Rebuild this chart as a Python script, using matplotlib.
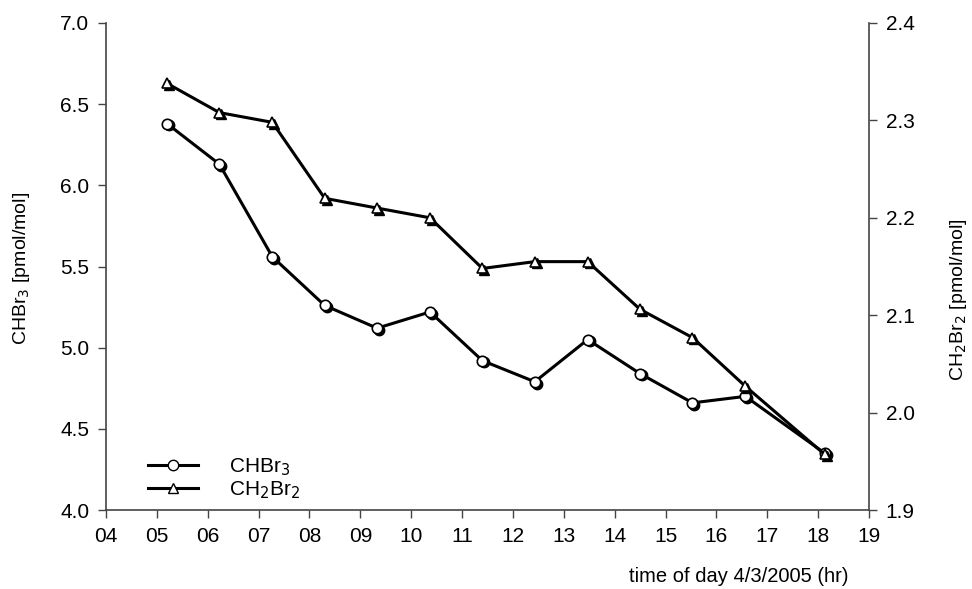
import matplotlib
matplotlib.use("Agg")
import matplotlib.pyplot as plt
import matplotlib.transforms as mtransforms
from matplotlib.lines import Line2D

plt.rcParams['font.family'] = ['Liberation Sans', 'DejaVu Sans']

time_hr = [5.2, 6.23, 7.27, 8.3, 9.33, 10.37, 11.4, 12.43, 13.47, 14.5, 15.53, 16.57, 18.13]
chbr3 = [6.38, 6.13, 5.56, 5.26, 5.12, 5.22, 4.92, 4.79, 5.05, 4.84, 4.66, 4.70, 4.35]
ch2br2 = [2.338, 2.308, 2.298, 2.22, 2.21, 2.20, 2.148, 2.155, 2.155, 2.106, 2.077, 2.027, 1.957]
xticks = list(range(4, 20))
xtick_labels = [f"{h:02d}" for h in xticks]

fig = plt.figure(figsize=(9.72, 5.89), dpi=100)
ax = fig.add_axes([106/972, 1 - 510/589, (869-106)/972, (510-23)/589])
ax2 = ax.twinx()

spine_col = '#444444'

def draw(axis, x, y, marker):
    axis.plot(x, y, color='black', lw=2.2, zorder=2)
    off = mtransforms.offset_copy(axis.transData, fig=fig, x=1.3, y=-1.3, units='points')
    axis.plot(x, y, ls='none', marker=marker, ms=7.5, mfc='black', mec='black',
              transform=off, zorder=3)
    axis.plot(x, y, ls='none', marker=marker, ms=7.5, mfc='white', mec='black',
              mew=1.2, zorder=4)

draw(ax, time_hr, chbr3, 'o')
draw(ax2, time_hr, ch2br2, '^')

ax.set_xlim(4, 19)
ax.set_ylim(4.0, 7.0)
ax2.set_ylim(1.9, 2.4)
ax.set_xticks(xticks)
ax.set_xticklabels(xtick_labels)
ax.set_yticks([4.0, 4.5, 5.0, 5.5, 6.0, 6.5, 7.0])
ax.set_yticklabels([f"{v:.1f}" for v in [4.0, 4.5, 5.0, 5.5, 6.0, 6.5, 7.0]])
ax2.set_yticks([1.9, 2.0, 2.1, 2.2, 2.3, 2.4])
ax2.set_yticklabels([f"{v:.1f}" for v in [1.9, 2.0, 2.1, 2.2, 2.3, 2.4]])

for a in (ax, ax2):
    a.spines['top'].set_visible(False)
    for s in ('left', 'right', 'bottom'):
        a.spines[s].set_color(spine_col)
        a.spines[s].set_linewidth(1.2)
    a.tick_params(axis='both', direction='out', length=6, width=1, color=spine_col,
                  labelsize=15, pad=6)
ax.spines['right'].set_visible(False)
ax2.spines['left'].set_visible(False)
ax2.spines['bottom'].set_visible(False)

fig.text(22/972, 1 - 268/589, "CHBr$_3$ [pmol/mol]", rotation=90, ha='center', va='center', fontsize=14)
fig.text(958/972, 1 - 300/589, "CH$_2$Br$_2$ [pmol/mol]", rotation=90, ha='center', va='center', fontsize=14)

fig.text(848/972, 1 - 577/589, "time of day 4/3/2005 (hr)", ha='right', va='center', fontsize=14.5)

handles = [Line2D([], [], color='black', lw=2.2, marker='o', ms=7.5, mfc='white', mec='black'),
           Line2D([], [], color='black', lw=2.2, marker='^', ms=7.5, mfc='white', mec='black')]
ax.legend(handles, ["CHBr$_3$", "CH$_2$Br$_2$"], loc='lower left', bbox_to_anchor=(0.03, -0.02),
          frameon=False, fontsize=15, handlelength=2.4, handletextpad=1.5, labelspacing=0.05)

fig.savefig("out.png", dpi=100)
